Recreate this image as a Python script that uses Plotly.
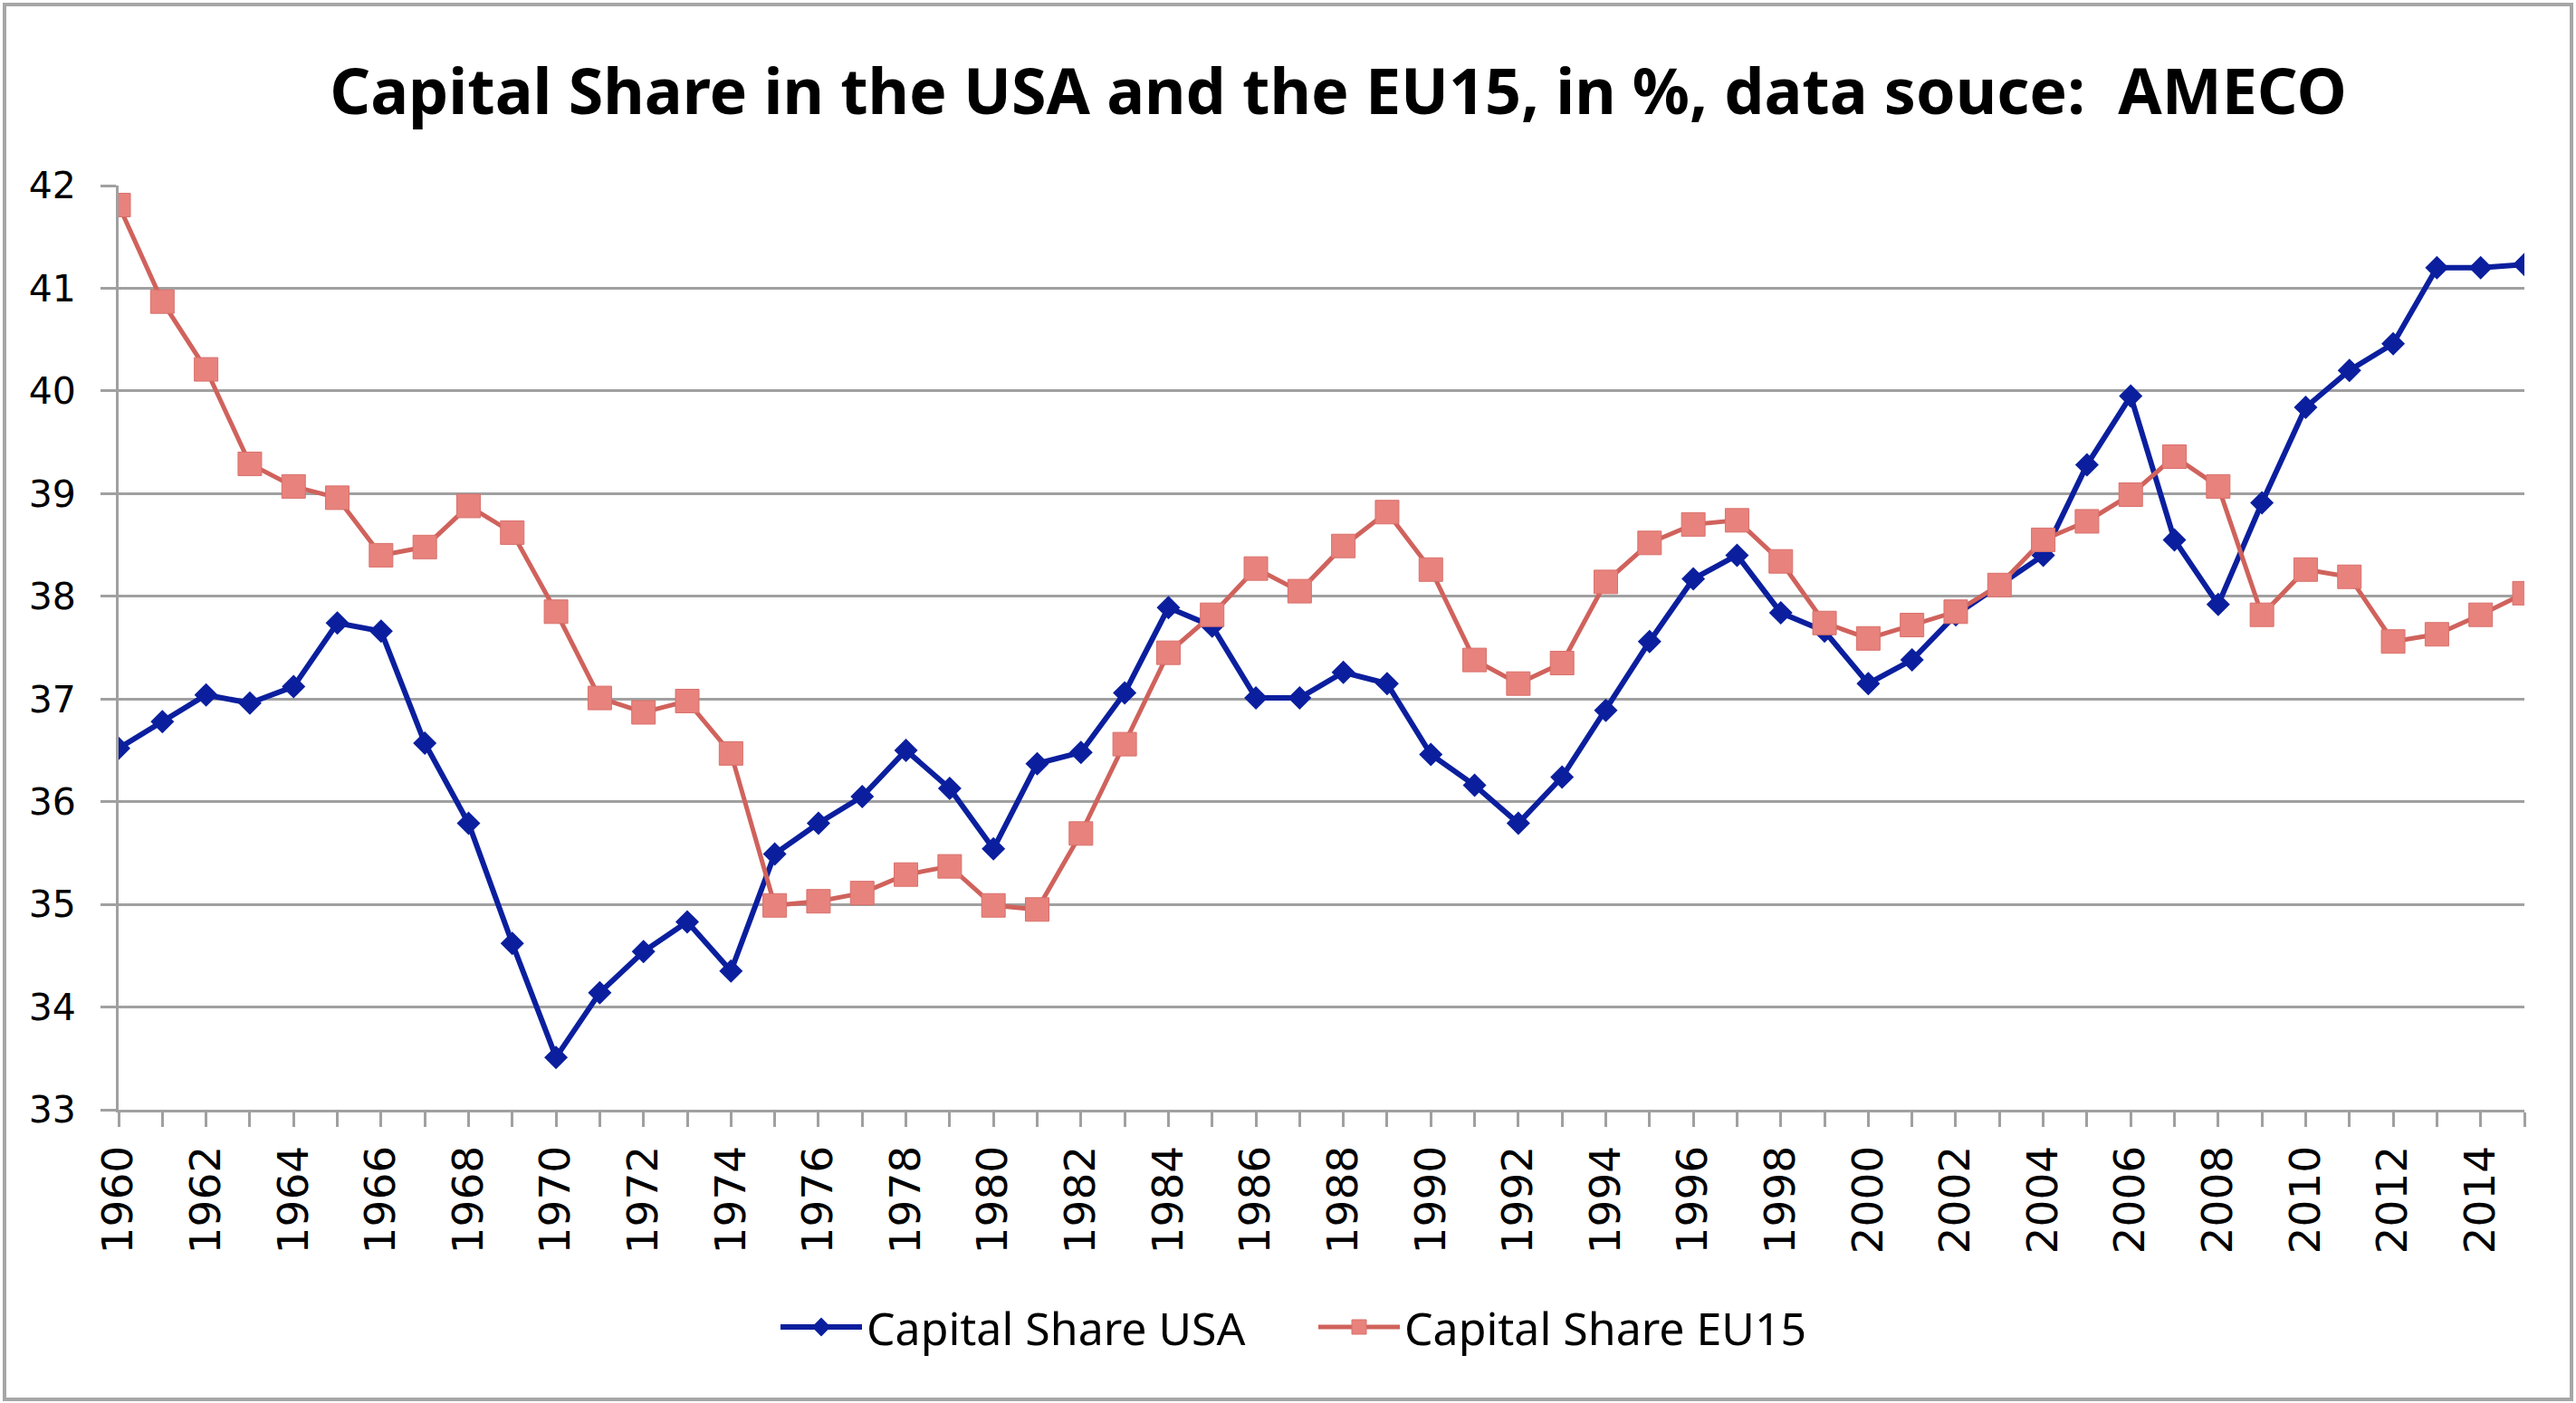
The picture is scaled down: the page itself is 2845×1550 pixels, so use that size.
import plotly.graph_objects as go

years = list(range(1960, 2016))

usa = [36.52, 36.78, 37.04, 36.96, 37.12, 37.74, 37.66, 36.57, 35.79, 34.62,
       33.51, 34.14, 34.54, 34.83, 34.35, 35.49, 35.79, 36.05, 36.50, 36.13,
       35.54, 36.37, 36.48, 37.06, 37.89, 37.71, 37.01, 37.01, 37.26, 37.15,
       36.46, 36.16, 35.79, 36.24, 36.89, 37.56, 38.17, 38.40, 37.84, 37.66,
       37.15, 37.38, 37.82, 38.11, 38.40, 39.28, 39.95, 38.55, 37.92, 38.91,
       39.84, 40.20, 40.46, 41.20, 41.20, 41.23]

eu15 = [41.81, 40.87, 40.21, 39.29, 39.07, 38.96, 38.40, 38.48, 38.88, 38.62,
        37.85, 37.01, 36.87, 36.98, 36.47, 34.99, 35.03, 35.11, 35.29, 35.37,
        34.99, 34.95, 35.69, 36.56, 37.45, 37.82, 38.27, 38.05, 38.49, 38.82,
        38.26, 37.38, 37.15, 37.35, 38.14, 38.52, 38.70, 38.74, 38.34, 37.74,
        37.59, 37.72, 37.85, 38.11, 38.55, 38.73, 38.99, 39.36, 39.07, 37.82,
        38.26, 38.19, 37.56, 37.63, 37.82, 38.03]

x_tick_labels = [str(y) for y in years[::2]]
y_ticks = [33, 34, 35, 36, 37, 38, 39, 40, 41, 42]

title_text = "Capital Share in the USA and the EU15, in %, data souce:  AMECO"

GRID = "#a0a0a0"

fig = go.Figure()
fig.add_trace(go.Scatter(
    x=years, y=usa, name="Capital Share USA", mode="lines+markers",
    line=dict(color="#0b1f9e", width=6),
    marker=dict(symbol="diamond", size=20, color="#0b1f9e"),
))
fig.add_trace(go.Scatter(
    x=years, y=eu15, name="Capital Share EU15", mode="lines+markers",
    line=dict(color="#d0625c", width=5),
    marker=dict(symbol="square", size=26, color="#e8827d",
                line=dict(color="#d9706b", width=1)),
))

L, R, T, B = 131, 57, 205, 324
W, H = 2845, 1550
pw = W - L - R
ph = H - T - B

def px(xp):
    return (xp - L) / pw

def py(yp):
    return (H - B - yp) / ph

fig.update_layout(
    width=W, height=H,
    margin=dict(l=L, r=R, t=T, b=B, autoexpand=False),
    paper_bgcolor="white", plot_bgcolor="white",
    title=dict(text="<b>" + title_text + "</b>",
               font=dict(family="Noto Sans", size=70, color="black"),
               xref="container", x=1478 / W, xanchor="center",
               y=1 - 101 / H, yanchor="middle"),
    showlegend=True,
    legend=dict(orientation="h", x=px(857), xanchor="left",
                y=py(1466), yanchor="middle",
                font=dict(family="Noto Sans", size=50, color="black"),
                itemwidth=90, entrywidth=489, entrywidthmode="pixels",
                bgcolor="rgba(0,0,0,0)", borderwidth=0),
    xaxis=dict(
        range=[1960, 2015], tickmode="array", tickvals=years[::2],
        ticktext=x_tick_labels, tickangle=-90,
        ticks="outside", ticklen=16, tickwidth=3, tickcolor=GRID,
        minor=dict(tickmode="array", tickvals=years, ticks="outside",
                   ticklen=16, tickwidth=3, tickcolor=GRID, showgrid=False),
        showgrid=False, showline=True, linecolor=GRID, linewidth=3,
        tickfont=dict(family="DejaVu Sans", size=47, color="black"),
        ticklabelstandoff=2, zeroline=False,
    ),
    yaxis=dict(
        range=[33, 42], tickmode="array", tickvals=y_ticks,
        ticks="outside", ticklen=17, tickwidth=3, tickcolor=GRID,
        showgrid=True, gridcolor=GRID, gridwidth=3,
        showline=True, linecolor=GRID, linewidth=3,
        tickfont=dict(family="DejaVu Sans", size=41, color="black"),
        ticklabelstandoff=19, zeroline=False,
    ),
    shapes=[dict(type="rect", xref="paper", yref="paper",
                 x0=px(5), x1=px(2840), y0=py(1546), y1=py(5),
                 line=dict(color="#a6a6a6", width=4), layer="below")],
)

fig.write_html("out.html",
               config={"displayModeBar": False},
               post_script="document.body.style.margin='0';"
                           "document.body.style.overflow='hidden';")
